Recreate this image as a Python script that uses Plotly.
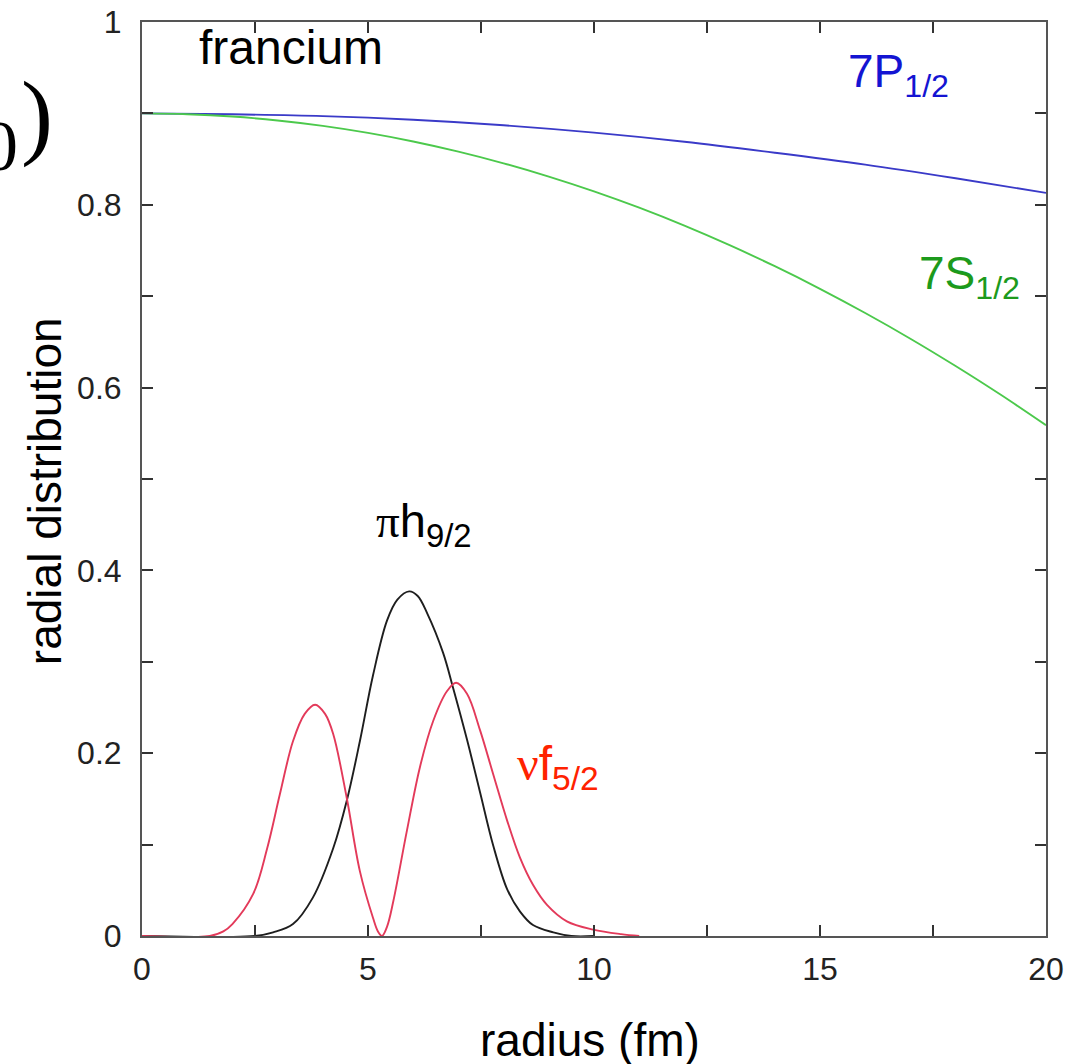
import plotly.graph_objects as go

# Radial distributions in francium (radius in fm)
r_7p = [0, 2, 4, 6, 8, 10, 12, 14, 16, 18, 20]
d_7p = [0.900, 0.899, 0.897, 0.893, 0.887, 0.879, 0.869, 0.857, 0.844, 0.829, 0.813]

r_7s = [0, 1, 2, 3, 4, 5, 6, 7, 8, 9, 10, 11, 12, 13, 14, 15, 16, 17, 18, 19, 20]
d_7s = [0.9000, 0.8991, 0.8966, 0.8923, 0.8864, 0.8787, 0.8693, 0.8582, 0.8454, 0.8309,
        0.8147, 0.7968, 0.7772, 0.7558, 0.7328, 0.7081, 0.6816, 0.6535, 0.6236, 0.5921, 0.5588]

r_h92 = [0, 2.5, 2.9, 3.34, 3.78, 4.23, 4.53, 4.82, 5.11, 5.42, 5.65, 5.91, 6.1, 6.31,
         6.66, 6.88, 7.19, 7.48, 7.77, 8.08, 8.36, 8.65, 9.1, 9.5, 10.0]
d_h92 = [0, 0.000, 0.004, 0.013, 0.042, 0.096, 0.148, 0.213, 0.285, 0.345, 0.368, 0.377,
         0.372, 0.353, 0.310, 0.272, 0.215, 0.157, 0.099, 0.051, 0.027, 0.012, 0.004, 0.000, 0]

r_f52 = [0, 1.5, 1.8, 2.0, 2.46, 2.77, 3.05, 3.34, 3.6, 3.83, 4.05, 4.23, 4.53, 4.82,
         5.11, 5.22, 5.31, 5.42, 5.56, 5.86, 6.15, 6.44, 6.75, 6.95, 7.19, 7.48, 7.77,
         8.08, 8.36, 8.65, 8.96, 9.4, 9.98, 10.6, 11.0]
d_f52 = [0, 0.000, 0.005, 0.013, 0.046, 0.096, 0.155, 0.213, 0.243, 0.253, 0.243, 0.221,
         0.151, 0.071, 0.020, 0.005, 0.000, 0.010, 0.038, 0.115, 0.185, 0.235, 0.268,
         0.277, 0.265, 0.225, 0.177, 0.126, 0.086, 0.056, 0.034, 0.016, 0.007, 0.002, 0.000]

x_tickvals = [0, 2.5, 5, 7.5, 10, 12.5, 15, 17.5, 20]
x_ticktext = ["0", "", "5", "", "10", "", "15", "", "20"]
y_tickvals = [0, 0.1, 0.2, 0.3, 0.4, 0.5, 0.6, 0.7, 0.8, 0.9, 1.0]
y_ticktext = ["0", "", "0.2", "", "0.4", "", "0.6", "", "0.8", "", "1"]

SANS = "Liberation Sans, Arial, Helvetica, sans-serif"
SERIF = "Liberation Serif, Times New Roman, serif"

fig = go.Figure()

curves = [
    (r_7p, d_7p, "#3a3ac8"),
    (r_7s, d_7s, "#4cc94c"),
    (r_h92, d_h92, "#1e1e1e"),
    (r_f52, d_f52, "#e33a5a"),
]
for xs, ys, col in curves:
    fig.add_trace(go.Scatter(
        x=xs, y=ys, mode="lines",
        line=dict(color=col, width=1.9, shape="spline", smoothing=1.0),
        showlegend=False, hoverinfo="skip",
    ))

axis_common = dict(
    showgrid=False, zeroline=False, automargin=False,
    showline=True, linecolor="#555555", linewidth=2, mirror="ticks",
    ticks="inside", ticklen=11, tickwidth=1.5, tickcolor="#333333",
    tickfont=dict(family=SANS, size=32, color="#222222"),
)

fig.update_xaxes(range=[0, 20], tickmode="array", tickvals=x_tickvals,
                 ticktext=x_ticktext, ticklabelstandoff=4, **axis_common)
fig.update_yaxes(range=[0, 1], tickmode="array", tickvals=y_tickvals,
                 ticktext=y_ticktext, ticklabelstandoff=12, **axis_common)

def label(x, y, text, color, size=46):
    fig.add_annotation(
        x=x, y=y, text=text, showarrow=False, xref="x", yref="y",
        xanchor="center", yanchor="middle",
        font=dict(family=SANS, size=size, color=color),
    )

label(3.30, 0.972, "francium", "#000000", size=48)
label(16.73, 0.943, "7P<sub>1/2</sub>", "#1414d2")
label(18.30, 0.722, "7S<sub>1/2</sub>", "#1c9a1c")
label(6.24, 0.451,
      "<span style='font-family:Liberation Serif'>π</span>h<sub>9/2</sub>",
      "#000000", size=47)
label(9.20, 0.185,
      "<span style='font-family:Liberation Serif'>ν</span>f<sub>5/2</sub>",
      "#ff2200", size=48)

# axis titles
fig.add_annotation(x=-0.107, y=0.487, xref="paper", yref="paper",
                   text="radial distribution", textangle=-90, showarrow=False,
                   xanchor="center", yanchor="middle",
                   font=dict(family=SANS, size=46, color="#000000"))
fig.add_annotation(x=0.496, y=-0.114, xref="paper", yref="paper",
                   text="radius (fm)", showarrow=False,
                   xanchor="center", yanchor="middle",
                   font=dict(family=SANS, size=46, color="#000000"))

# fragment of an expression at the left edge
fig.add_annotation(x=-0.116, y=0.899, xref="paper", yref="paper",
                   text=")", showarrow=False, xanchor="center", yanchor="middle",
                   font=dict(family=SERIF, size=96, color="#000000"))
fig.add_annotation(x=-0.157, y=0.864, xref="paper", yref="paper",
                   text="0", showarrow=False, xanchor="center", yanchor="middle",
                   font=dict(family=SERIF, size=72, color="#000000"))

fig.update_layout(
    width=1065, height=1064,
    margin=dict(l=142, r=19, t=22, b=128),
    paper_bgcolor="white", plot_bgcolor="white",
)

fig.write_html("out.html")
